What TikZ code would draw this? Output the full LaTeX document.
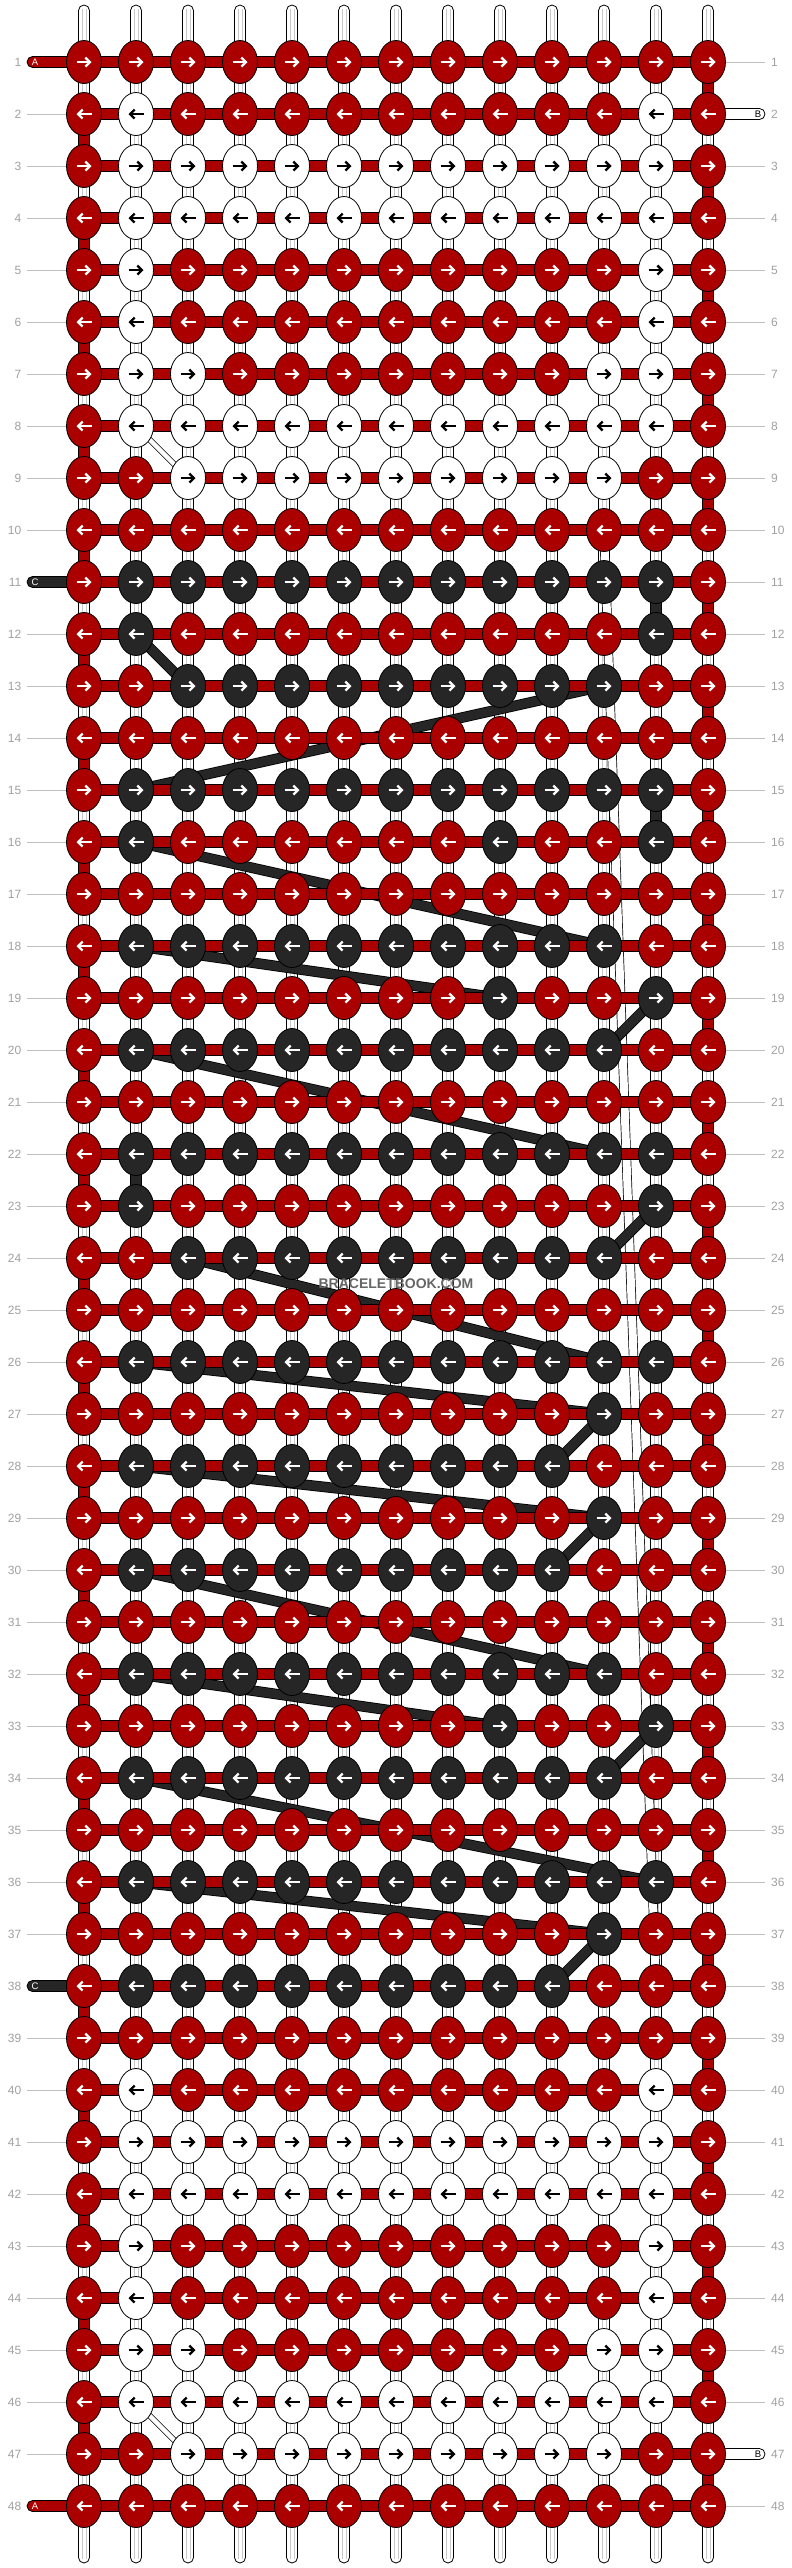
\documentclass[tikz,border=0pt]{standalone}
\usepackage{fontspec}
\setmainfont{Liberation Sans}
\usetikzlibrary{shapes.geometric,arrows.meta}
\definecolor{kR}{HTML}{AA0000}
\definecolor{kW}{HTML}{FFFFFF}
\definecolor{kD}{HTML}{262626}
\colorlet{aR}{white}\colorlet{aW}{black}\colorlet{aD}{white}
\definecolor{lbl}{HTML}{A0A0A0}
\definecolor{lline}{HTML}{C0C0C0}
\definecolor{inner}{HTML}{C8C8C8}
\pgfdeclarelayer{vstr}\pgfdeclarelayer{bars}\pgfdeclarelayer{hstr}
\pgfsetlayers{vstr,bars,hstr,main}
\begin{document}
\begin{tikzpicture}[x=1pt,y=-1pt,
  knot/.style={ellipse, draw=black, line width=0.8pt, fill=k#1, minimum width=35pt, minimum height=43pt, inner sep=0pt},
  arr/.style={line width=2.3pt, -{Straight Barb[length=4.5pt,width=9pt]}},
  vs/.style={draw=black, line width=0.8pt, fill=white, rounded corners=5.5pt},
  seg/.style={draw=black, line width=0.8pt, fill=#1},
  hs/.style={draw=black, line width=0.8pt, fill=kR},
  pill/.style={draw=black, line width=0.8pt, fill=#1, rounded corners=5.5pt},
  pilltxt/.style={font=\fontsize{9.5}{10}\selectfont, inner sep=0pt},
  cbar/.style={line width=0.8pt, draw=black, double=kD, double distance=9pt},
  wbar/.style={line width=0.7pt, draw=black, double=white, double distance=#1},
  lab/.style={font=\fontsize{12}{12}\selectfont, text=lbl, inner sep=0pt},
  gl/.style={draw=lline, line width=0.8pt}]
\useasboundingbox (0,0) rectangle (792,2568);

% knots
\foreach \r/\row in {
1/{R,R,R,R,R,R,R,R,R,R,R,R,R},
2/{R,W,R,R,R,R,R,R,R,R,R,W,R},
3/{R,W,W,W,W,W,W,W,W,W,W,W,R},
4/{R,W,W,W,W,W,W,W,W,W,W,W,R},
5/{R,W,R,R,R,R,R,R,R,R,R,W,R},
6/{R,W,R,R,R,R,R,R,R,R,R,W,R},
7/{R,W,W,R,R,R,R,R,R,R,W,W,R},
8/{R,W,W,W,W,W,W,W,W,W,W,W,R},
9/{R,R,W,W,W,W,W,W,W,W,W,R,R},
10/{R,R,R,R,R,R,R,R,R,R,R,R,R},
11/{R,D,D,D,D,D,D,D,D,D,D,D,R},
12/{R,D,R,R,R,R,R,R,R,R,R,D,R},
13/{R,R,D,D,D,D,D,D,D,D,D,R,R},
14/{R,R,R,R,R,R,R,R,R,R,R,R,R},
15/{R,D,D,D,D,D,D,D,D,D,D,D,R},
16/{R,D,R,R,R,R,R,R,D,R,R,D,R},
17/{R,R,R,R,R,R,R,R,R,R,R,R,R},
18/{R,D,D,D,D,D,D,D,D,D,D,R,R},
19/{R,R,R,R,R,R,R,R,D,R,R,D,R},
20/{R,D,D,D,D,D,D,D,D,D,D,R,R},
21/{R,R,R,R,R,R,R,R,R,R,R,R,R},
22/{R,D,D,D,D,D,D,D,D,D,D,D,R},
23/{R,D,R,R,R,R,R,R,R,R,R,D,R},
24/{R,R,D,D,D,D,D,D,D,D,D,R,R},
25/{R,R,R,R,R,R,R,R,R,R,R,R,R},
26/{R,D,D,D,D,D,D,D,D,D,D,D,R},
27/{R,R,R,R,R,R,R,R,R,R,D,R,R},
28/{R,D,D,D,D,D,D,D,D,D,R,R,R},
29/{R,R,R,R,R,R,R,R,R,R,D,R,R},
30/{R,D,D,D,D,D,D,D,D,D,R,R,R},
31/{R,R,R,R,R,R,R,R,R,R,R,R,R},
32/{R,D,D,D,D,D,D,D,D,D,D,R,R},
33/{R,R,R,R,R,R,R,R,D,R,R,D,R},
34/{R,D,D,D,D,D,D,D,D,D,D,R,R},
35/{R,R,R,R,R,R,R,R,R,R,R,R,R},
36/{R,D,D,D,D,D,D,D,D,D,D,D,R},
37/{R,R,R,R,R,R,R,R,R,R,D,R,R},
38/{R,D,D,D,D,D,D,D,D,D,R,R,R},
39/{R,R,R,R,R,R,R,R,R,R,R,R,R},
40/{R,W,R,R,R,R,R,R,R,R,R,W,R},
41/{R,W,W,W,W,W,W,W,W,W,W,W,R},
42/{R,W,W,W,W,W,W,W,W,W,W,W,R},
43/{R,W,R,R,R,R,R,R,R,R,R,W,R},
44/{R,W,R,R,R,R,R,R,R,R,R,W,R},
45/{R,W,W,R,R,R,R,R,R,R,W,W,R},
46/{R,W,W,W,W,W,W,W,W,W,W,W,R},
47/{R,R,W,W,W,W,W,W,W,W,W,R,R},
48/{R,R,R,R,R,R,R,R,R,R,R,R,R}} {
  \foreach \k [count=\c] in \row {
    \node[knot=\k] (k-\r-\c) at ({32+52*\c},{10+52*\r}) {};
    \ifodd\r\relax \def\da{-7.5}\def\db{7.5}\else \def\da{7.5}\def\db{-7.5}\fi
    \draw[arr, draw=a\k] ([xshift=\da pt]k-\r-\c.center) -- ([xshift=\db pt]k-\r-\c.center);
  }
}

% vertical strings
\begin{pgfonlayer}{vstr}
\foreach \c in {1,...,13} {
  \coordinate (t-\c) at ({32+52*\c},5);
  \coordinate (b-\c) at ({32+52*\c},2563);
  \draw[vs] ([xshift=-5.5pt]t-\c) rectangle ([xshift=5.5pt]b-\c);
  \draw[draw=inner, line width=0.7pt] ([xshift=-2pt,yshift=-4pt]t-\c) -- ([xshift=-2pt,yshift=4pt]b-\c);
  \draw[draw=inner, line width=0.7pt] ([xshift=2pt,yshift=-4pt]t-\c) -- ([xshift=2pt,yshift=4pt]b-\c);
}
\foreach \r in {2,4,...,46} {
  \pgfmathtruncatemacro\rn{\r+1}
  \draw[seg=kR] ([xshift=-5.5pt]k-\r-1.center) rectangle ([xshift=5.5pt]k-\rn-1.center);
}
\foreach \r in {1,3,...,47} {
  \pgfmathtruncatemacro\rn{\r+1}
  \draw[seg=kR] ([xshift=-5.5pt]k-\r-13.center) rectangle ([xshift=5.5pt]k-\rn-13.center);
}
\foreach \r/\c in {11/12,15/12,22/2} {
  \pgfmathtruncatemacro\rn{\r+1}
  \draw[seg=kD] ([xshift=-5.5pt]k-\r-\c.center) rectangle ([xshift=5.5pt]k-\rn-\c.center);
}
\end{pgfonlayer}

% carried strings
\begin{pgfonlayer}{bars}
\draw[wbar=4.5pt] (k-8-2.center) -- (k-9-3.center);
\draw[wbar=4.5pt] (k-46-2.center) -- (k-47-3.center);
\draw[wbar=8pt] (k-10-11.center) -- (k-38-12.center);
\foreach \ra/\ca/\rb/\cb in {12/2/13/3, 13/11/15/2, 16/2/18/11, 18/2/19/9, 19/12/20/11,
  20/2/22/11, 23/12/24/11, 24/3/26/11, 26/2/27/11, 27/11/28/10, 28/2/29/11, 29/11/30/10,
  30/2/32/11, 32/2/33/9, 33/12/34/11, 34/2/36/12, 36/2/37/11, 37/11/38/10}
  \draw[cbar] (k-\ra-\ca.center) -- (k-\rb-\cb.center);
\end{pgfonlayer}

% horizontal strings, pills and row labels
\begin{pgfonlayer}{hstr}
\foreach \r in {1,...,48}
  \draw[hs] ([yshift=5.5pt]k-\r-1.center) rectangle ([yshift=-5.5pt]k-\r-13.center);
\foreach \r/\col/\txt/\tc in {1/kR/A/white, 48/kR/A/white, 11/kD/C/white, 38/kD/C/white} {
  \coordinate (pl-\r) at (27,{10+52*\r});
  \draw[pill=\col] ([yshift=5.5pt]pl-\r) rectangle ([yshift=-5.5pt]k-\r-1.center);
  \node[pilltxt, text=\tc] (plt-\r) at ([xshift=8pt]pl-\r) {\txt};
}
\foreach \r in {2,47} {
  \coordinate (pr-\r) at (765,{10+52*\r});
  \draw[pill=white] ([yshift=5.5pt]k-\r-13.center) rectangle ([yshift=-5.5pt]pr-\r);
  \node[pilltxt, text=black] (prt-\r) at ([xshift=-7pt]pr-\r) {B};
}
\end{pgfonlayer}

\foreach \r in {1,...,48} {
  \node[lab, anchor=east] (ll-\r) at (21.5,{10+52*\r}) {\r};
  \node[lab, anchor=west] (lr-\r) at (771,{10+52*\r}) {\r};
}
\foreach \r in {2,...,10,12,13,...,37,39,40,...,47}
  \draw[gl] (27,{10+52*\r}) -- (k-\r-1.west);
\foreach \r in {1,3,4,...,46,48}
  \draw[gl] (k-\r-13.east) -- (765,{10+52*\r});

\node[font=\bfseries\fontsize{14}{14}\selectfont, text=black!60, inner sep=0pt] (wm) at (396,1284) {BRACELETBOOK.COM};
\end{tikzpicture}
\end{document}
